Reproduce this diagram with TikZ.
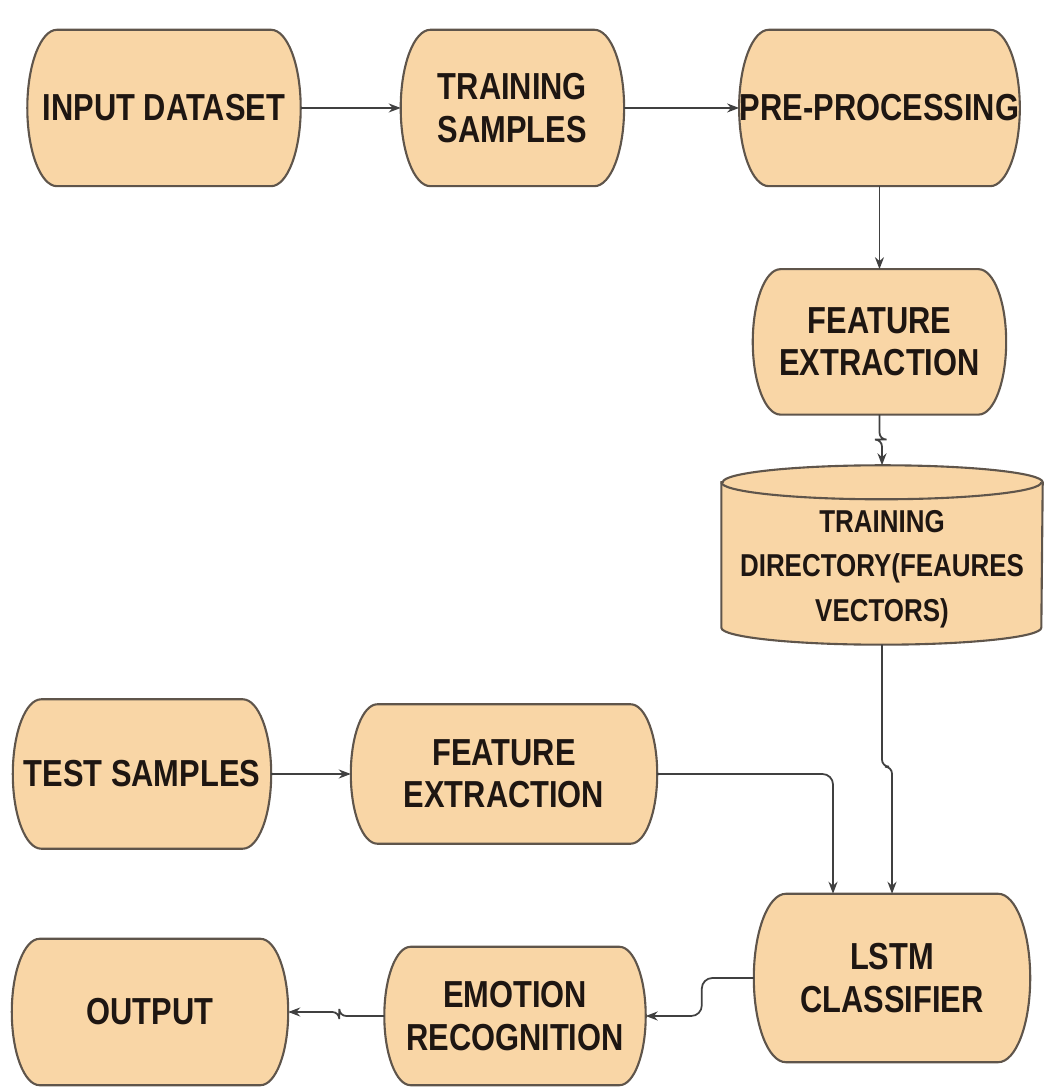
\documentclass[tikz,border=0pt]{standalone}
\usepackage{fontspec}
\newfontfamily\stagefont{Liberation Sans}[FakeStretch=0.82]
\usetikzlibrary{positioning,calc,backgrounds,arrows.meta}
\definecolor{boxfill}{RGB}{249,214,166}
\definecolor{boxline}{RGB}{95,85,75}
\definecolor{textdark}{RGB}{30,22,18}
\tikzset{
  stage/.style={rectangle, inner sep=0pt, align=center, text=textdark,
    font=\stagefont\bfseries\fontsize{10.7}{12}\selectfont},
  stageshape/.style={draw=boxline, fill=boxfill, line width=0.6pt},
  flow/.style={draw=black!75, line width=0.5pt, -{Stealth[length=1.2mm,width=0.9mm]}},
}
\begin{document}
\begin{tikzpicture}
	\useasboundingbox (0,0) rectangle (10.46,10.89);
	% training branch
	\node[stage, minimum width=2.72cm, minimum height=1.55cm] (input) at (1.64,9.81) {INPUT DATASET};
	\node[stage, minimum width=2.22cm, minimum height=1.55cm, right=1cm of input] (train) {TRAINING\\SAMPLES};
	\node[stage, minimum width=2.73cm, minimum height=1.55cm, right=1.15cm of train] (prep) {PRE-PROCESSING};
	\node[stage, minimum width=2.52cm, minimum height=1.44cm, below=0.83cm of prep] (featA) {FEATURE\\EXTRACTION};
	
	\node[inner sep=0pt, minimum width=3.2cm, minimum height=1.78cm] (db) at (8.82,5.34) {};
	\draw[stageshape] ($(db.north west)+(0,-0.17)$) -- ($(db.south west)+(0,0.17)$)
		arc[start angle=180, end angle=360, x radius=1.6cm, y radius=0.17cm] -- ($(db.north east)+(0,-0.17)$)
		arc[start angle=0, end angle=180, x radius=1.6cm, y radius=0.17cm] -- cycle;
	\draw[draw=boxline, line width=0.6pt] ($(db.north west)+(0,-0.17)$) arc[start angle=180, end angle=360, x radius=1.6cm, y radius=0.17cm];
	\node[align=center, text=textdark, font=\stagefont\bfseries\fontsize{9}{12.6}\selectfont] (dblabel) at ($(db.center)+(0,-0.14)$) {TRAINING\\DIRECTORY(FEAURES\\VECTORS)};
	
	% testing branch
	\node[stage, minimum width=2.57cm, minimum height=1.48cm] (test) at (1.42,3.15) {TEST SAMPLES};
	\node[stage, minimum width=3.05cm, minimum height=1.38cm] (featB) at (5.04,3.15) {FEATURE\\EXTRACTION};
	\node[stage, minimum width=2.75cm, minimum height=1.67cm] (lstm) at (8.92,1.11) {LSTM\\CLASSIFIER};
	\node[stage, minimum width=2.60cm, minimum height=1.37cm] (emo) at (5.15,0.73) {EMOTION\\RECOGNITION};
	\node[stage, minimum width=2.75cm, minimum height=1.45cm] (out) at (1.50,0.77) {OUTPUT};
	
	% box outlines with bulging sides
	\begin{scope}[on background layer]
	\foreach \s in {input,train,prep,featA,test,featB,lstm,emo,out}
		\path[stageshape] let \p1=(\s.north), \p2=(\s.south), \n1={0.5*(\y1-\y2)}, \n2={0.38*\n1} in
			($(\s.north west)+(\n2,0)$) -- ($(\s.north east)+(-\n2,0)$)
			arc[start angle=90, end angle=-90, x radius=\n2, y radius=\n1]
			-- ($(\s.south west)+(\n2,0)$)
			arc[start angle=270, end angle=90, x radius=\n2, y radius=\n1] -- cycle;
	\end{scope}
	
	\draw[flow] (input.east) -- (train.west);
	\draw[flow] (train.east) -- (prep.west);
	\draw[flow] (prep.south) -- (featA.north);
	\draw[flow, rounded corners=2pt] (featA.south) -- ++(0,-0.25) -| (db.north);
	\draw[flow, rounded corners=2pt] (db.south) -- ++(0,-1.22) -| (lstm.north);
	\draw[flow] (test.east) -- (featB.west);
	\draw[flow, rounded corners=3pt] (featB.east) -| ($(lstm.north)+(-0.59,0)$);
	\draw[flow, rounded corners=3pt] (lstm.west) -- ++(-0.52,0) |- (emo.east);
	\draw[flow, rounded corners=2pt] (emo.west) -- ++(-0.45,0) |- (out.east);
\end{tikzpicture}
\end{document}
